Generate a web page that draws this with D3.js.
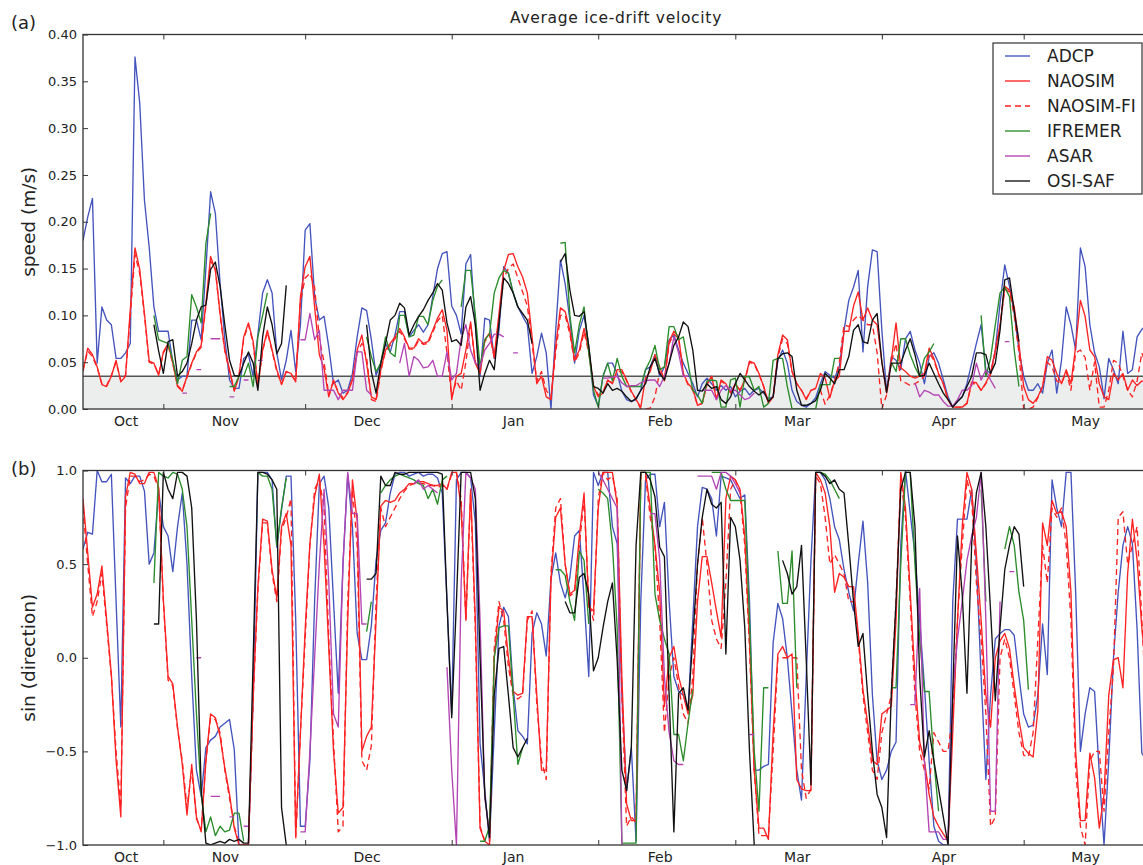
<!DOCTYPE html>
<html>
<head>
<meta charset="utf-8">
<script src="https://cdn.jsdelivr.net/npm/d3@7"></script>
<style>
  body { margin: 0; background: #fff; }
  svg { display: block; font-family: "DejaVu Sans", sans-serif; }
</style>
</head>
<body>
<div id="container"></div>
<script>
/* CONSTANTS AND GLOBALS */
const width = 1143
const height = 865
const pxPerDay = 4.727
const left = 83
const panelA = { top: 34.5, bottom: 409 }
const panelB = { top: 470.5, bottom: 845 }

// daily series, day 0 = 15 Oct 2007. each series is a list of [firstDay, values]
const startDate = new Date(2007, 9, 15)
const monthTicks = ["2007-11-01", "2007-12-01", "2008-01-01", "2008-02-01", "2008-03-01", "2008-04-01", "2008-05-01"]
const monthLabels = ["Oct", "Nov", "Dec", "Jan", "Feb", "Mar", "Apr", "May"]
const monthLabelDates = ["2007-10-24", "2007-11-14", "2007-12-14", "2008-01-14", "2008-02-14", "2008-03-14", "2008-04-14", "2008-05-14"]
const speedTicks = [0, 0.05, 0.1, 0.15, 0.2, 0.25, 0.3, 0.35, 0.4]
const dirTicks = [-1, -0.5, 0, 0.5, 1]
const speedThreshold = 0.035

const seriesNames = ["ADCP", "NAOSIM", "NAOSIM-FI", "IFREMER", "ASAR", "OSI-SAF"]

/* (a) SPEED */
const speedADCP = [[0, [
  0.18,0.205,0.225,0.049,0.109,0.095,0.09,0.054,0.054,0.06,
  0.07,0.376,0.327,0.223,0.173,0.109,0.083,0.083,0.083,0.05,
  0.031,0.035,0.035,0.095,0.095,0.074,0.15,0.232,0.209,0.134,
  0.075,0.031,0.022,0.022,0.054,0.058,0.035,0.08,0.124,0.138,
  0.124,0.06,0.031,0.052,0.084,0.04,0.09,0.191,0.198,0.12,
  0.095,0.099,0.066,0.027,0.031,0.017,0.02,0.038,0.077,0.108,
  0.105,0.074,0.036,0.049,0.07,0.061,0.079,0.104,0.104,0.077,
  0.084,0.09,0.082,0.09,0.12,0.15,0.166,0.168,0.11,0.1,
  0.08,0.155,0.165,0.09,0.035,0.097,0.095,0.054,0.084,0.152,
  0.145,0.124,0.109,0.099,0.09,0.038,0.056,0.081,0.06,0.0,
  0.084,0.159,0.134,0.095,0.049,0.084,0.1,0.067,0.015,0.003,
  0.035,0.049,0.049,0.038,0.019,0.01,0.008,0.01,0.02,0.042,
  0.045,0.058,0.035,0.045,0.074,0.079,0.063,0.049,0.038,0.027,
  0.013,0.027,0.033,0.027,0.02,0.025,0.02,0.024,0.013,0.019,
  0.022,0.015,0.02,0.022,0.017,0.011,0.013,0.052,0.063,0.049,
  0.02,0.008,0.004,0.002,0.006,0.012,0.027,0.04,0.036,0.033,
  0.045,0.084,0.116,0.13,0.148,0.061,0.131,0.17,0.168,0.084,
  0.018,0.056,0.052,0.042,0.075,0.083,0.063,0.049,0.027,0.056,
  0.06,0.049,0.031,0.013,0.002,0.008,0.013,0.027,0.049,0.07,
  0.09,0.042,0.038,0.063,0.113,0.154,0.131,0.102,0.063,0.035,
  0.02,0.02,0.027,0.017,0.049,0.063,0.017,0.052,0.109,0.09,
  0.063,0.172,0.152,0.09,0.06,0.045,0.011,0.054,0.042,0.027,
  0.083,0.038,0.042,0.077,0.085,0.09]]]

const speedNAOSIM = [[0, [
  0.04,0.065,0.058,0.045,0.026,0.024,0.035,0.052,0.029,0.035,
  0.106,0.172,0.149,0.102,0.051,0.049,0.036,0.061,0.07,0.049,
  0.024,0.019,0.035,0.049,0.061,0.068,0.113,0.163,0.148,0.102,
  0.063,0.042,0.019,0.035,0.077,0.092,0.072,0.024,0.063,0.084,
  0.063,0.042,0.026,0.04,0.038,0.029,0.12,0.152,0.163,0.109,
  0.058,0.043,0.013,0.031,0.017,0.01,0.017,0.031,0.063,0.079,
  0.049,0.013,0.01,0.042,0.063,0.07,0.077,0.086,0.077,0.065,
  0.065,0.075,0.07,0.072,0.084,0.097,0.106,0.084,0.01,0.035,
  0.038,0.063,0.093,0.049,0.038,0.074,0.081,0.056,0.102,0.148,
  0.165,0.166,0.152,0.141,0.124,0.077,0.027,0.035,0.013,0.01,
  0.067,0.108,0.104,0.084,0.052,0.063,0.086,0.063,0.024,0.013,
  0.017,0.031,0.027,0.042,0.042,0.031,0.019,0.01,0.002,0.033,
  0.04,0.058,0.045,0.031,0.072,0.083,0.077,0.038,0.027,0.022,
  0.004,0.006,0.027,0.035,0.01,0.031,0.027,0.017,0.027,0.02,
  0.031,0.051,0.049,0.038,0.024,0.006,0.013,0.058,0.079,0.074,
  0.04,0.027,0.02,0.01,0.02,0.022,0.038,0.033,0.012,0.03,
  0.035,0.083,0.083,0.11,0.125,0.095,0.108,0.095,0.09,0.05,
  0.017,0.052,0.092,0.044,0.04,0.035,0.033,0.035,0.038,0.065,
  0.054,0.038,0.027,0.01,0.002,0.002,0.002,0.006,0.029,0.028,
  0.02,0.028,0.038,0.063,0.09,0.131,0.127,0.109,0.07,0.024,
  0.01,0.006,0.013,0.024,0.056,0.052,0.038,0.027,0.042,0.027,
  0.067,0.116,0.099,0.063,0.056,0.027,0.013,0.01,0.038,0.031,
  0.038,0.02,0.031,0.025,0.03,0.028]]]

const speedNAOSIMFI = [[0, [
  0.042,0.062,0.056,0.044,0.027,0.025,0.036,0.05,0.03,0.036,
  0.1,0.165,0.145,0.1,0.05,0.048,0.037,0.06,0.068,0.048,
  0.025,0.02,0.034,0.048,0.06,0.066,0.11,0.158,0.15,0.1,
  0.062,0.04,0.02,0.036,0.075,0.09,0.07,0.025,0.062,0.082,
  0.062,0.04,0.027,0.04,0.037,0.03,0.115,0.14,0.145,0.13,
  0.075,0.05,0.015,0.03,0.018,0.012,0.018,0.032,0.06,0.07,
  0.055,0.01,0.008,0.04,0.062,0.068,0.075,0.083,0.075,0.064,
  0.064,0.073,0.069,0.07,0.082,0.094,0.1,0.06,0.013,0.03,
  0.02,0.05,0.09,0.05,0.04,0.072,0.08,0.055,0.095,0.14,
  0.15,0.155,0.14,0.125,0.11,0.07,0.03,0.04,0.02,0.012,
  0.06,0.1,0.1,0.08,0.05,0.06,0.082,0.06,0.025,0.015,
  0.018,0.03,0.028,0.04,0.04,0.03,0.018,0.01,0.0,0.0,
  0.001,0.013,0.04,0.03,0.07,0.08,0.075,0.037,0.026,0.02,
  0.004,0.006,0.026,0.034,0.011,0.03,0.026,0.018,0.026,0.02,
  0.03,0.05,0.048,0.037,0.024,0.007,0.013,0.055,0.075,0.07,
  0.04,0.027,0.02,0.011,0.02,0.022,0.02,0.005,0.015,0.03,
  0.05,0.09,0.088,0.095,0.1,0.095,0.09,0.09,0.06,0.0,
  0.015,0.05,0.07,0.03,0.028,0.025,0.027,0.03,0.035,0.06,
  0.052,0.037,0.027,0.01,0.002,0.002,0.002,0.006,0.027,0.027,
  0.02,0.027,0.037,0.06,0.088,0.128,0.125,0.1,0.06,0.0,
  0.0,0.002,0.012,0.024,0.05,0.045,0.03,0.027,0.04,0.02,
  0.06,0.063,0.055,0.02,0.05,0.002,0.002,0.02,0.052,0.049,
  0.035,0.02,0.013,0.03,0.06,0.045]]]

const speedIFREMER = [
  [15, [0.1,0.074,0.072,0.07,0.052,0.027,0.052,0.056,0.122,0.109,0.092,0.177,0.209]],
  [31, [0.024,0.024,0.035,0.035,0.049,0.024,0.077,0.1,0.124]],
  [60, [0.077,0.056,0.04,0.049,0.077,0.06,0.056,0.1,0.1,0.077,0.079,0.099,0.099,0.09,0.116,0.131,0.138]],
  [80, [0.109,0.148,0.148,0.1,0.045,0.074,0.08,0.124,0.14,0.148,0.145,0.124,0.109]],
  [101, [0.177,0.178,0.1,0.06,0.09,0.109,0.06,0.02,0.002,0.035,
         0.049,0.03,0.054,0.035,0.024,0.024,0.024,0.024,0.042,0.052,
         0.068,0.042,0.045,0.088,0.088,0.074,0.077,0.049,0.02,0.015,
         0.006,0.03,0.031,0.03,0.002,0.002,0.031,0.033,0.002,0.035,
         0.034,0.02,0.024,0.002,0.006,0.052,0.054,0.054,0.024,0.0,
         0.0,0.0,0.0,0.0,0.0,0.026,0.026,0.026,0.054,0.054]],
  [171, [0.05,0.04,0.075,0.075,0.058,0.045,0.035,0.054,0.061,0.07]],
  [190, [0.1,0.035,0.054,0.09,0.124,0.13,0.12,0.063,0.024]]
]

const speedASAR = [
  [21, [0.017,0.017]], [24, [0.042,0.042]], [27, [0.075,0.075,0.075]],
  [31, [0.013,0.013]], [34, [0.031,0.031]], [37, [0.052,0.052]],
  [46, [0.074,0.074,0.102,0.074,0.084,0.02,0.02,0.02,0.01,0.02,0.02,0.02,0.061,0.061,0.02,0.015]],
  [67, [0.049,0.07,0.035,0.056,0.052,0.044,0.045,0.052,0.035,0.035,0.061,0.031,0.038,0.075,0.09,0.063,0.049,0.045,0.063,0.07,0.08,0.08,0.077]],
  [91, [0.06,0.06]],
  [110, [0.033,0.033,0.034,0.035,0.028,0.024,0.025,0.025,0.028,0.03,0.031,0.031,0.024,0.035,0.049,0.077,0.06,0.035,0.035]],
  [131, [0.02,0.02,0.02,0.01,0.02,0.025,0.02,0.02,0.015,0.01,0.012,0.017]],
  [176, [0.028,0.013,0.02,0.018,0.015,0.015,0.008,0.003,0.003,0.01,0.02,0.02,0.025,0.049,0.031,0.042,0.031,0.022]],
  [195, [0.072,0.072]]
]

const speedOSISAF = [
  [15, [0.09,0.062,0.038,0.072,0.074,0.035,0.04,0.049,0.07,0.095,
        0.109,0.111,0.149,0.157,0.131,0.09,0.052,0.036,0.035,0.049,
        0.061,0.049,0.02,0.077,0.109,0.09,0.059,0.07,0.132]],
  [60, [0.09,0.04,0.017,0.049,0.07,0.095,0.1,0.113,0.108,0.079,
        0.09,0.099,0.106,0.116,0.124,0.134,0.127,0.092,0.072,0.074,
        0.068,0.109,0.12,0.09,0.02,0.038,0.052,0.042,0.092,0.14,
        0.134,0.124,0.109,0.102,0.095,0.07]],
  [101, [0.157,0.166,0.127,0.1,0.099,0.104,0.067,0.024,0.022,0.017,
         0.027,0.02,0.022,0.019,0.013,0.008,0.011,0.02,0.027,0.045,
         0.054,0.038,0.031,0.049,0.068,0.077,0.093,0.088,0.063,0.02,
         0.019,0.027,0.022,0.024,0.01,0.006,0.013,0.027,0.038,0.031,
         0.024,0.019,0.015,0.019,0.008,0.013,0.054,0.059,0.06,0.056,
         0.02,0.004,0.004,0.006,0.009,0.02,0.038,0.033,0.027,0.042,
         0.042,0.056,0.084,0.09,0.072,0.07,0.095,0.102,0.05,0.018,
         0.049,0.049,0.049,0.063,0.075,0.058,0.035,0.036,0.049,0.038,
         0.027,0.017,0.01,0.002,0.008,0.013,0.024,0.035,0.06,0.06,
         0.058,0.038,0.049,0.084,0.138,0.14,0.105,0.072]]
]

/* (b) SIN(DIRECTION) */
const dirADCP = [[0, [
  0.58,0.67,0.66,1.0,0.94,0.94,0.98,0.3,-0.37,0.96,
  0.93,0.97,0.97,0.89,0.5,0.56,0.89,0.7,0.65,0.46,
  0.7,0.88,0.5,-0.1,-0.6,-0.74,-0.48,-0.44,-0.42,-0.37,
  -0.35,-0.33,-0.49,-1.0,-1.0,-1.0,-0.2,0.99,0.99,0.99,
  0.95,0.59,0.79,0.97,0.97,0.2,-0.9,-0.9,-0.55,0.3,
  0.93,0.97,0.8,0.3,-0.19,0.5,0.98,0.7,0.13,-0.01,
  -0.01,0.17,0.52,0.68,0.72,0.88,0.98,0.99,0.99,0.97,
  0.98,0.99,0.97,0.98,0.98,0.96,0.88,0.3,-0.3,0.95,
  0.99,0.99,0.96,0.72,-0.46,-0.71,-0.98,-0.4,0.17,0.27,
  0.22,-0.16,-0.39,-0.42,-0.46,0.13,0.24,0.18,0.01,0.42,
  0.56,0.4,0.32,0.43,0.65,0.68,0.32,-0.1,0.99,0.92,
  0.99,0.99,0.7,0.61,-0.2,-0.71,-0.48,-0.98,0.3,0.95,
  0.98,0.98,0.7,0.83,0.3,-0.1,-0.18,-0.2,-0.28,0.2,
  0.7,0.91,0.9,0.85,0.65,0.97,0.96,0.95,0.9,0.85,
  0.87,0.3,-0.6,-0.6,-0.58,-0.57,0.08,0.29,0.21,0.0,
  -0.3,-0.6,-0.76,-0.1,0.52,0.99,0.99,0.95,0.85,0.7,
  0.63,0.47,0.35,0.25,0.5,0.73,0.4,-0.2,-0.55,-0.65,
  -0.6,-0.5,-0.45,0.6,1.0,0.77,0.55,0.2,-0.15,-0.55,
  -0.9,-0.98,-1.0,-1.0,0.3,0.74,0.74,0.74,0.9,0.5,
  -0.1,-0.65,-0.2,0.1,0.13,0.15,0.15,0.12,-0.1,-0.3,
  -0.37,-0.36,-0.2,0.18,-0.09,0.95,0.8,0.7,0.99,0.99,
  0.35,-0.5,-0.3,-0.16,-0.18,-0.62,-1.0,-0.55,0.0,0.35,
  0.6,0.7,0.61,0.15,-0.51,-0.55]]]

const dirNAOSIM = [[0, [
  0.85,0.56,0.27,0.34,0.49,0.2,-0.09,-0.55,-0.85,0.86,
  0.99,0.98,0.93,0.93,0.99,0.99,0.91,0.31,-0.1,-0.14,
  -0.37,-0.57,-0.84,-0.57,-0.85,-0.93,-0.55,-0.3,-0.32,-0.42,
  -0.59,-0.73,-0.91,-1.0,-1.0,-1.0,-0.2,0.38,0.74,0.73,
  0.47,0.32,0.7,0.77,0.6,-0.95,-0.4,0.15,0.61,0.86,
  0.98,0.6,0.05,-0.5,-0.83,-0.8,0.2,0.95,0.73,-0.5,
  -0.42,-0.37,0.2,0.81,0.84,0.83,0.84,0.88,0.9,0.93,
  0.93,0.94,0.94,0.93,0.92,0.92,0.93,0.9,0.99,0.99,
  0.8,0.2,0.9,0.2,-0.91,-0.98,-1.0,0.0,0.27,0.25,
  0.0,-0.18,-0.2,-0.19,0.22,0.22,-0.2,-0.6,-0.6,0.42,
  0.75,0.8,0.5,0.34,0.36,0.65,0.88,0.27,0.25,0.8,
  0.99,0.99,0.99,0.82,-0.1,-0.78,-0.87,-0.87,0.99,0.99,
  0.8,0.6,0.35,-0.26,0.0,0.06,-0.1,-0.2,-0.3,-0.2,
  0.3,0.54,0.54,0.4,0.25,0.11,0.85,0.97,0.95,0.9,
  0.65,0.1,-0.6,-0.91,-0.91,-0.97,-0.4,0.02,0.06,0.0,
  0.02,-0.65,-0.7,-0.71,-0.71,0.99,0.95,0.88,0.7,0.35,
  0.45,0.43,0.38,0.38,0.13,-0.17,-0.35,-0.55,-0.57,-0.3,
  -0.28,-0.26,0.2,0.99,0.8,0.35,-0.1,-0.45,-0.55,-0.73,
  -0.85,-0.9,-0.94,-0.98,-0.4,0.2,0.7,0.99,0.9,0.55,
  0.2,-0.2,-0.37,0.0,0.09,0.13,0.05,-0.15,-0.33,-0.48,
  -0.51,-0.53,-0.28,0.72,0.6,0.84,0.77,0.78,0.7,0.35,
  -0.5,-0.87,-0.87,-0.51,-0.64,-0.91,-0.73,-0.2,-0.01,0.0,
  -0.16,0.45,0.74,0.52,0.16,-0.1]]]

const dirNAOSIMFI = [[0, [
  0.8,0.5,0.22,0.3,0.45,0.18,-0.1,-0.5,-0.8,0.8,
  0.97,0.97,0.94,0.95,0.98,0.97,0.9,0.3,-0.12,-0.15,
  -0.38,-0.55,-0.8,-0.6,-0.86,-0.92,-0.55,-0.32,-0.33,-0.4,
  -0.6,-0.75,-0.9,-0.99,-1.0,-1.0,-0.22,0.36,0.72,0.72,
  0.45,0.3,0.68,0.75,0.85,-0.97,-0.4,0.1,0.6,0.9,
  0.95,0.8,0.1,-0.45,-0.93,-0.9,0.3,0.9,0.6,-0.55,
  -0.6,-0.47,0.3,0.8,0.7,0.75,0.8,0.85,0.89,0.92,
  0.93,0.93,0.93,0.92,0.92,0.91,0.92,0.9,0.98,0.99,
  0.85,0.2,0.88,0.15,-0.9,-0.98,-0.98,0.05,0.3,0.2,
  -0.05,-0.2,-0.22,-0.2,0.2,0.25,-0.25,-0.55,-0.65,0.45,
  0.8,0.85,0.5,0.33,0.35,0.6,0.85,0.3,0.2,0.85,
  0.99,0.95,0.97,0.85,-0.2,-0.9,-0.85,-0.88,0.98,0.97,
  0.75,0.6,0.2,-0.4,-0.1,0.0,-0.15,-0.3,-0.35,-0.1,
  0.5,0.75,0.5,0.2,0.1,0.05,0.4,0.9,0.95,0.88,
  0.6,0.05,-0.6,-0.95,-0.95,-0.95,-0.5,0.0,0.0,0.0,
  0.0,0.0,-0.6,-0.75,-0.7,0.97,0.93,0.75,0.5,0.55,
  0.5,0.45,0.3,0.3,0.1,-0.2,-0.4,-0.6,-0.65,-0.4,
  -0.3,-0.2,0.3,0.95,0.75,0.3,-0.2,-0.5,-0.6,-0.7,
  -0.4,-0.45,-0.5,-0.5,-0.3,0.2,0.6,0.95,0.85,0.4,
  0.1,-0.3,-0.9,-0.85,0.0,0.1,0.0,-0.2,-0.4,-0.52,
  -0.53,-0.4,0.1,0.6,0.4,0.8,0.75,0.8,0.6,0.2,
  -0.6,-0.9,-1.0,-0.55,-0.5,-0.5,-0.82,-0.4,-0.05,0.75,
  0.78,0.5,0.6,0.7,0.2,-0.3]]]

const dirIFREMER = [
  [15, [0.4,0.99,0.97,0.96,0.99,0.98,0.9,0.7,0.2,-0.3,-0.73,-0.93,-0.85,-0.95,-0.9,-0.93,-0.92,-0.83,-0.83,-0.98]],
  [37, [0.99,0.97,0.97,0.9,0.6,0.8,0.96]],
  [60, [0.14,0.3]],
  [63, [0.88,0.92,0.95,0.97,0.98,0.97,0.96,0.95,0.93,0.92,0.85,0.9,0.82,0.95,0.97]],
  [84, [-0.98,-0.98,-0.9,0.0,0.16,0.17,0.17,-0.2,-0.57,-0.48]],
  [100, [0.47,0.47,0.44,0.3,0.2,0.57,0.52,0.18]],
  [109, [0.9,0.88,0.85,0.6,0.16,-0.99,-0.99,-0.99,-0.99,0.99,0.99,0.99,0.34,0.2,0.1,0.02,-0.41,-0.41,-0.55,-0.35,-0.17]],
  [133, [0.99,0.99,0.99,0.9,0.84,0.84,0.84,0.84,0.2,-0.5,-0.82,-0.16,-0.16]],
  [147, [0.57,0.29,0.29,0.57,-0.16]],
  [155, [0.99,0.99,0.98,0.95,0.9,0.85]],
  [171, [-0.16,-0.16,0.5,0.99,0.99,0.5,0.1,-0.18,-0.18,-0.55,-0.82]],
  [190, [0.9,0.3]],
  [195, [0.58,0.7,0.6,0.35,0.2,-0.17]]
]

const dirASAR = [
  [24, [0.0,0.0]], [27, [-0.74,-0.74,-0.74]], [31, [-0.85,-0.85]], [34, [-0.9,-0.9]],
  [46, [-0.93,-0.93,-0.5,0.0,0.5,0.9,0.4,-0.3,-0.37,0.5,0.99,0.77,0.77,0.18,0.18]],
  [70, [0.93,0.95,0.9,0.92,0.9,0.88]],
  [77, [-0.05,-0.6,-1.0,0.4,0.99,0.96,0.9,0.2,-0.75,-0.93]],
  [109, [0.99,0.95,0.9,0.85,0.8,-1.0]],
  [120, [0.77,0.77,0.52,-0.1,-0.4,-0.55,-0.57,-0.57]],
  [130, [0.97,0.97,0.97,0.97,0.9,0.99,0.99,0.97,0.93,0.88]],
  [141, [-0.41,-0.41]],
  [175, [-0.25,-0.25,0.37,-0.55,-0.93,-0.93,-0.93,-0.97,-0.97,-0.19,0.1,0.3,0.52,0.65,0.75,0.99,0.2,-0.82,-0.82,0.3]],
  [196, [0.46,0.46]]
]

const dirOSISAF = [
  [15, [0.18,0.18,0.99,0.9,0.85,0.99,0.99,0.97,0.8,0.2,
        -0.7,-0.99,-1.0,-0.99,-0.98,-0.99,-0.97,-0.98,-0.97,-0.99,
        -0.99,0.0,0.99,0.99,0.98,0.95,0.9,-0.8,-1.0]],
  [60, [0.42,0.42,0.45,0.97,0.92,0.92,0.99,0.98,0.98,0.99,
        0.99,0.99,0.99,0.99,0.99,0.99,0.98,0.3,-0.32,0.3,
        0.99,0.99,0.99,0.85,0.0,-0.73,-0.96,-0.2,0.05,0.06,
        -0.2,-0.48,-0.53,-0.48,-0.43]],
  [102, [0.3,0.24,0.24,0.43,0.45,0.34,-0.07,0.0,0.16,0.3,
         0.4,-0.01,-0.6,-0.71,-0.48,0.6,0.99,0.99,0.95,0.86,
         0.59,0.54,-0.2,-0.93,-0.19,-0.16,-0.28,0.1,0.5,0.75,
         0.9,0.82,0.8,0.83,0.02,0.75,0.7,0.52,0.16,-0.5,-1.0]],
  [148, [0.52,0.45,0.34,0.38,0.6,-0.01,-0.68,0.99,0.99,0.97,
         0.93,0.95,0.9,0.88,0.6,0.3,0.06,0.13,-0.2,-0.5,
         -0.73,-0.8,-0.96,-0.19,0.3,0.9,0.99,0.99,0.7,-0.1,
         -0.53,-0.39,-0.55,-0.7,-0.85,-1.0,-0.19,0.65,0.34,-0.19,
         0.61,0.88,0.99,0.7,0.25,-0.23,0.16,0.47,0.6,0.7,
         0.66,0.38]]
]

/* STYLES */
const seriesStyle = {
  "ADCP":      { color: "#4454bd", dash: null },
  "NAOSIM":    { color: "#ff2222", dash: null },
  "NAOSIM-FI": { color: "#ff2222", dash: "6,4" },
  "IFREMER":   { color: "#2a8c2a", dash: null },
  "ASAR":      { color: "#b444b4", dash: null },
  "OSI-SAF":   { color: "#111111", dash: null }
}

const speedSeries = [speedADCP, speedNAOSIM, speedNAOSIMFI, speedIFREMER, speedASAR, speedOSISAF]
const dirSeries = [dirADCP, dirNAOSIM, dirNAOSIMFI, dirIFREMER, dirASAR, dirOSISAF]

// turn [firstDay, values] segments into points, null between segments
function toPoints(segments) {
  const pts = []
  segments.forEach(([first, vals], i) => {
    if (i > 0) pts.push(null)
    vals.forEach((v, j) => pts.push({ date: d3.timeDay.offset(startDate, first + j), value: v }))
  })
  return pts
}

const parse = d3.timeParse("%Y-%m-%d")
const endDay = 228

/* SCALES */
const xScale = d3.scaleTime()
  .domain([startDate, d3.timeDay.offset(startDate, endDay)])
  .range([left, left + endDay * pxPerDay])
const right = left + endDay * pxPerDay

const ySpeed = d3.scaleLinear().domain([0, 0.4]).range([panelA.bottom, panelA.top])
const yDir = d3.scaleLinear().domain([-1, 1]).range([panelB.bottom, panelB.top])

/* CREATE SVG ELEMENT */
const svg = d3.select("#container")
  .append("svg")
  .attr("width", width)
  .attr("height", height)

svg.append("rect").attr("width", width).attr("height", height).attr("fill", "#fff")

function drawPanel(panel, yScale, seriesList, id) {
  svg.append("clipPath").attr("id", id)
    .append("rect")
    .attr("x", left).attr("y", panel.top)
    .attr("width", right - left).attr("height", panel.bottom - panel.top)

  const g = svg.append("g").attr("clip-path", `url(#${id})`)

  if (id === "clipA") {
    // grey band below the threshold
    g.append("rect")
      .attr("x", left).attr("width", right - left)
      .attr("y", yScale(speedThreshold))
      .attr("height", yScale(0) - yScale(speedThreshold))
      .attr("fill", "#eceeee")
    g.append("line")
      .attr("x1", left).attr("x2", right)
      .attr("y1", yScale(speedThreshold)).attr("y2", yScale(speedThreshold))
      .attr("stroke", "#555").attr("stroke-width", 1.6)
  }

  const line = d3.line()
    .defined(d => d !== null)
    .x(d => xScale(d.date))
    .y(d => yScale(d.value))

  seriesList.forEach((segs, i) => {
    const st = seriesStyle[seriesNames[i]]
    g.append("path")
      .datum(toPoints(segs))
      .attr("fill", "none")
      .attr("stroke", st.color)
      .attr("stroke-width", 1.35)
      .attr("stroke-linejoin", "round")
      .attr("stroke-dasharray", st.dash)
      .attr("d", line)
  })

  // BUILD AND CALL AXES
  const ticksIn = d3.axisBottom(xScale)
    .tickValues(monthTicks.map(parse))
    .tickSize(-5)
    .tickFormat("")
  svg.append("g")
    .attr("transform", `translate(0, ${panel.bottom})`)
    .call(ticksIn)
    .call(a => a.select(".domain").remove())
    .call(a => a.selectAll("line").attr("stroke", "#333"))

  const ticksTop = d3.axisTop(xScale)
    .tickValues(monthTicks.map(parse))
    .tickSize(-5)
    .tickFormat("")
  svg.append("g")
    .attr("transform", `translate(0, ${panel.top})`)
    .call(ticksTop)
    .call(a => a.select(".domain").remove())
    .call(a => a.selectAll("line").attr("stroke", "#333"))

  const monthAxis = d3.axisBottom(xScale)
    .tickValues(monthLabelDates.map(parse))
    .tickSize(0)
    .tickPadding(7)
    .tickFormat((d, i) => monthLabels[i])
  svg.append("g")
    .attr("transform", `translate(0, ${panel.bottom})`)
    .call(monthAxis)
    .call(a => a.select(".domain").remove())
    .call(a => a.selectAll("text")
      .attr("font-size", 14)
      .attr("font-family", "DejaVu Sans, sans-serif")
      .attr("fill", "#222"))

  const yAxis = d3.axisLeft(yScale)
    .tickValues(id === "clipA" ? speedTicks : dirTicks)
    .tickSize(-5)
    .tickPadding(6)
    .tickFormat(id === "clipA" ? d3.format(".2f") : d3.format(".1f"))
  svg.append("g")
    .attr("transform", `translate(${left}, 0)`)
    .call(yAxis)
    .call(a => a.select(".domain").remove())
    .call(a => a.selectAll("line").attr("stroke", "#333"))
    .call(a => a.selectAll("text")
      .attr("font-size", 13)
      .attr("font-family", "DejaVu Sans, sans-serif")
      .attr("fill", "#222"))

  // frame (right side runs past the picture edge)
  svg.append("rect")
    .attr("x", left).attr("y", panel.top)
    .attr("width", right - left).attr("height", panel.bottom - panel.top)
    .attr("fill", "none")
    .attr("stroke", "#333")
    .attr("stroke-width", 1.3)
}

drawPanel(panelA, ySpeed, speedSeries, "clipA")
drawPanel(panelB, yDir, dirSeries, "clipB")

/* TEXTS */
svg.append("text")
  .attr("x", 616).attr("y", 23)
  .attr("text-anchor", "middle")
  .attr("font-size", 15.5)
  .attr("letter-spacing", 0.7)
  .attr("fill", "#222")
  .text("Average ice-drift velocity")

svg.append("text").attr("x", 11).attr("y", 29)
  .attr("font-size", 18).attr("fill", "#222").text("(a)")
svg.append("text").attr("x", 11).attr("y", 475)
  .attr("font-size", 18).attr("fill", "#222").text("(b)")

svg.append("text")
  .attr("transform", `translate(${35}, ${(panelA.top + panelA.bottom) / 2}) rotate(-90)`)
  .attr("text-anchor", "middle")
  .attr("font-size", 18.5).attr("fill", "#222")
  .text("speed (m/s)")

svg.append("text")
  .attr("transform", `translate(${35}, ${(panelB.top + panelB.bottom) / 2}) rotate(-90)`)
  .attr("text-anchor", "middle")
  .attr("font-size", 18.5).attr("fill", "#222")
  .text("sin (direction)")

/* LEGEND */
const legend = svg.append("g").attr("transform", "translate(993, 43)")
legend.append("rect")
  .attr("width", 149).attr("height", 151)
  .attr("fill", "#fff").attr("stroke", "#333").attr("stroke-width", 1.2)

seriesNames.forEach((name, i) => {
  const st = seriesStyle[name]
  const yy = 13 + i * 25
  legend.append("line")
    .attr("x1", 12).attr("x2", 37)
    .attr("y1", yy).attr("y2", yy)
    .attr("stroke", st.color).attr("stroke-width", 1.35)
    .attr("stroke-dasharray", st.dash)
  legend.append("text")
    .attr("x", 54).attr("y", yy + 6)
    .attr("font-size", 17).attr("fill", "#222")
    .text(name)
})
</script>
</body>
</html>
